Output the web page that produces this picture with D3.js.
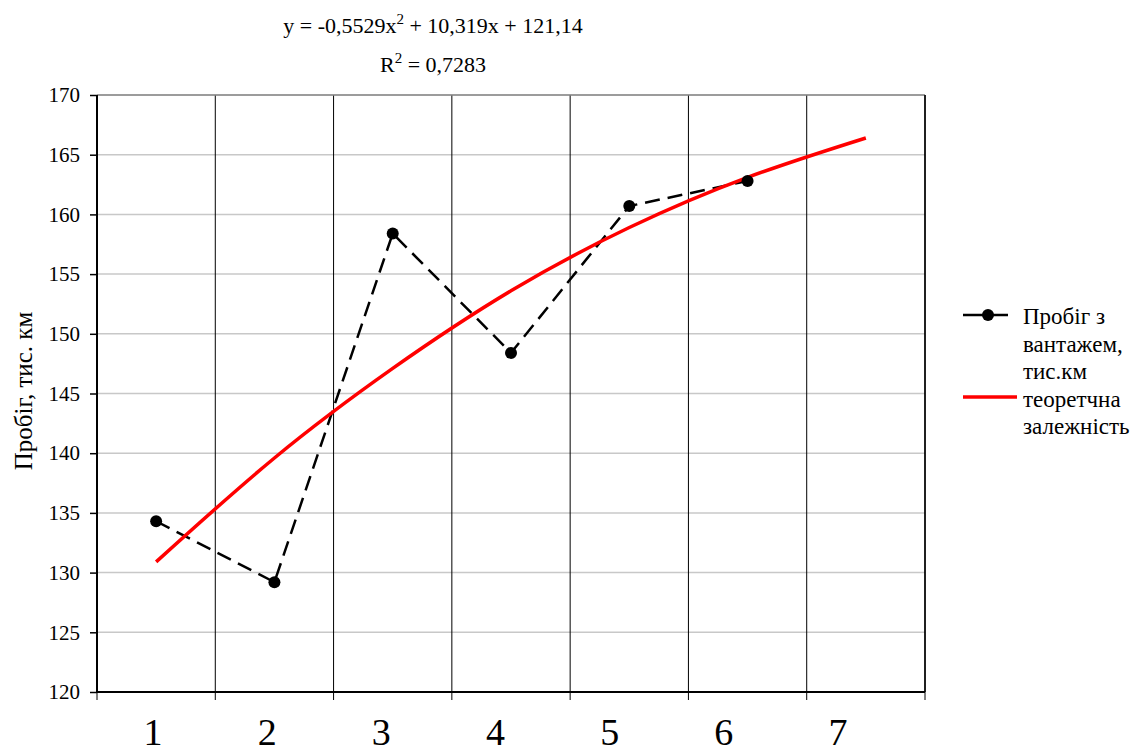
<!DOCTYPE html>
<html>
<head>
<meta charset="utf-8">
<script src="https://cdn.jsdelivr.net/npm/d3@7"></script>
<style>
  body { margin: 0; background: #fff; }
  svg text { font-family: "Liberation Serif", "Times New Roman", serif; fill: #000; }
</style>
</head>
<body>
<svg id="chart" width="1142" height="755"></svg>
<script>
// data
var categories = ['1', '2', '3', '4', '5', '6', '7'];
var mileage = [134.3, 129.2, 158.4, 148.4, 160.7, 162.8];
var trend = [130.9, 139.6, 147.1, 153.6, 158.9, 163.1, 166.4];
var y_ticks = [120, 125, 130, 135, 140, 145, 150, 155, 160, 165, 170];
var equation = ['y = -0,5529x', '2', ' + 10,319x + 121,14'];
var r_squared = ['R', '2', ' = 0,7283'];
var legend_items = [
	{ lines: ['Пробіг з', 'вантажем,', 'тис.км'], kind: 'data' },
	{ lines: ['теоретчна', 'залежність'], kind: 'trend' }
];

var PLOT_LEFT = 97, PLOT_RIGHT = 925, PLOT_TOP = 95, PLOT_BOTTOM = 692;

var svg = d3.select('#chart');

var x = d3.scaleBand()
			.domain(categories)
			.range([PLOT_LEFT, PLOT_RIGHT])
			.paddingInner(0)
			.paddingOuter(0);
var cx = function(i) { return x(categories[i]) + x.bandwidth() / 2; };

// tick labels in the original sit a bit left of the band centres
var x_label = d3.scalePoint()
			.domain(categories)
			.range([153, 838]);

var y = d3.scaleLinear()
			.domain([120, 170])
			.range([PLOT_BOTTOM, PLOT_TOP]);

// horizontal grid
svg.append('g')
	.attr('id', 'y-grid')
	.selectAll('line')
	.data(y_ticks.slice(1))
	.enter().append('line')
	.attr('x1', PLOT_LEFT).attr('x2', PLOT_RIGHT)
	.attr('y1', function(d) { return y(d); })
	.attr('y2', function(d) { return y(d); })
	.attr('stroke', '#c8c8c8')
	.attr('stroke-width', 1.5);

// vertical grid at the band edges
var edges = categories.map(function(c) { return x(c); }).concat([PLOT_RIGHT]);
svg.append('g')
	.attr('id', 'x-grid')
	.selectAll('line')
	.data(edges.slice(1))
	.enter().append('line')
	.attr('x1', function(d) { return d; })
	.attr('x2', function(d) { return d; })
	.attr('y1', PLOT_TOP).attr('y2', PLOT_BOTTOM)
	.attr('stroke', '#000')
	.attr('stroke-width', 1);

// x axis ticks
svg.append('g')
	.attr('id', 'x-ticks')
	.selectAll('line')
	.data(edges)
	.enter().append('line')
	.attr('x1', function(d) { return d; })
	.attr('x2', function(d) { return d; })
	.attr('y1', PLOT_BOTTOM).attr('y2', PLOT_BOTTOM + 8)
	.attr('stroke', '#000')
	.attr('stroke-width', 1);

svg.append('g')
	.attr('id', 'x-labels')
	.selectAll('text')
	.data(categories)
	.enter().append('text')
	.attr('x', function(d) { return x_label(d); })
	.attr('y', 745)
	.attr('text-anchor', 'middle')
	.style('font-size', '38px')
	.text(function(d) { return d; });

// y axis
var y_axis = svg.append('g')
	.attr('id', 'y-axis')
	.attr('transform', 'translate(' + PLOT_LEFT + ',0)')
	.call(d3.axisLeft(y).tickValues(y_ticks).tickSize(7).tickPadding(10).tickFormat(d3.format('d')));
y_axis.attr('font-family', null).attr('font-size', null);
y_axis.select('.domain').remove();
y_axis.selectAll('.tick line').attr('stroke', '#000').attr('stroke-width', 1.5);
y_axis.selectAll('.tick text')
	.style('font-size', '21px')
	.style('font-family', '"Liberation Serif", serif');

// frame
svg.append('line')
	.attr('x1', PLOT_LEFT).attr('x2', PLOT_RIGHT)
	.attr('y1', PLOT_TOP).attr('y2', PLOT_TOP)
	.attr('stroke', '#888').attr('stroke-width', 1.5);
svg.append('line')
	.attr('x1', PLOT_RIGHT).attr('x2', PLOT_RIGHT)
	.attr('y1', PLOT_TOP).attr('y2', PLOT_BOTTOM)
	.attr('stroke', '#000').attr('stroke-width', 1.5);
svg.append('line')
	.attr('x1', PLOT_LEFT).attr('x2', PLOT_LEFT)
	.attr('y1', PLOT_TOP).attr('y2', PLOT_BOTTOM + 1)
	.attr('stroke', '#000').attr('stroke-width', 2);
svg.append('line')
	.attr('x1', PLOT_LEFT - 1).attr('x2', PLOT_RIGHT)
	.attr('y1', PLOT_BOTTOM).attr('y2', PLOT_BOTTOM)
	.attr('stroke', '#000').attr('stroke-width', 2);

// data series
var data_line = d3.line()
	.x(function(d, i) { return cx(i); })
	.y(function(d) { return y(d); });

svg.append('path')
	.attr('id', 'line')
	.datum(mileage)
	.attr('d', data_line)
	.attr('fill', 'none')
	.attr('stroke', '#000')
	.attr('stroke-width', 2.5)
	.attr('stroke-dasharray', '15,8');

// trend
var trend_line = d3.line()
	.curve(d3.curveNatural)
	.x(function(d, i) { return cx(i); })
	.y(function(d) { return y(d); });

svg.append('path')
	.attr('id', 'trend')
	.datum(trend)
	.attr('d', trend_line)
	.attr('fill', 'none')
	.attr('stroke', '#ff0000')
	.attr('stroke-width', 3.5);

svg.append('g')
	.attr('id', 'circles')
	.selectAll('circle')
	.data(mileage)
	.enter().append('circle')
	.attr('cx', function(d, i) { return cx(i); })
	.attr('cy', function(d) { return y(d); })
	.attr('r', 6)
	.attr('fill', '#000');

// equation
function sup_text(parts, tx, ty)
{
	var t = svg.append('text')
		.attr('x', tx).attr('y', ty)
		.attr('text-anchor', 'middle')
		.style('font-size', '22px');
	t.append('tspan').text(parts[0]);
	t.append('tspan').attr('dy', -9).style('font-size', '15px').text(parts[1]);
	t.append('tspan').attr('dy', 9).text(parts[2]);
}
sup_text(equation, 433, 33);
sup_text(r_squared, 433, 72);

// y title
svg.append('text')
	.attr('transform', 'translate(32,391) rotate(-90)')
	.attr('text-anchor', 'middle')
	.style('font-size', '25px')
	.text('Пробіг, тис. км');

// legend
var lg = svg.append('g').attr('id', 'legend');
lg.append('line')
	.attr('x1', 963).attr('x2', 1008)
	.attr('y1', 315).attr('y2', 315)
	.attr('stroke', '#000').attr('stroke-width', 2.5);
lg.append('circle')
	.attr('cx', 988).attr('cy', 315).attr('r', 6).attr('fill', '#000');
lg.append('line')
	.attr('x1', 963).attr('x2', 1017)
	.attr('y1', 397).attr('y2', 397)
	.attr('stroke', '#ff0000').attr('stroke-width', 3.5);

var legend_lines = legend_items[0].lines.concat(legend_items[1].lines);
lg.selectAll('text')
	.data(legend_lines)
	.enter().append('text')
	.attr('x', 1023)
	.attr('y', function(d, i) { return 324 + i * 27.5; })
	.style('font-size', '23px')
	.text(function(d) { return d; });
</script>
</body>
</html>
